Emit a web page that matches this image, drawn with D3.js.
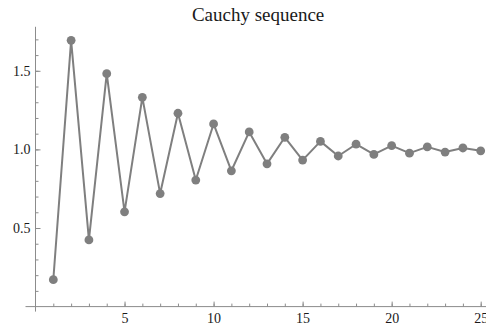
<!DOCTYPE html>
<html>
<head>
<meta charset="utf-8">
<script src="https://cdn.jsdelivr.net/npm/d3@7"></script>
<style>
  html, body { margin: 0; padding: 0; background: #fff; }
  svg { display: block; }
  text { font-family: "Liberation Serif", "Times New Roman", serif; }
</style>
</head>
<body>
<div id="chart"></div>
<script>
const title = "Cauchy sequence";
const nValues = [1,2,3,4,5,6,7,8,9,10,11,12,13,14,15,16,17,18,19,20,21,22,23,24,25];
const seqValues = [0.171, 1.694, 0.424, 1.482, 0.603, 1.331, 0.719, 1.230, 0.805, 1.162,
                   0.864, 1.111, 0.908, 1.077, 0.932, 1.051, 0.958, 1.033, 0.968, 1.024,
                   0.976, 1.016, 0.983, 1.009, 0.991];
const xMajorTicks = [5, 10, 15, 20, 25];
const xMinorTicks = d3.range(1, 26);
const yMajorTicks = [0.5, 1.0, 1.5];
const yMinorTicks = d3.range(1, 18).map(d => d / 10);

const W = 486, H = 327;
const svg = d3.select("#chart").append("svg").attr("width", W).attr("height", H);

const x = d3.scaleLinear().domain([0, 25]).range([35.5, 480.7]);
const y = d3.scaleLinear().domain([0, 1]).range([306.6, 149.4]);

const axisColor = "#8c8c8c";

// title
svg.append("text")
  .attr("x", (x(0) + x(25)) / 2)
  .attr("y", 20.5)
  .attr("text-anchor", "middle")
  .attr("font-size", 19)
  .attr("fill", "#1a1a1a")
  .text(title);

// axis lines (extended slightly past origin, Mathematica-style)
svg.append("line")
  .attr("x1", x(0) - 10).attr("x2", W)
  .attr("y1", y(0)).attr("y2", y(0))
  .attr("stroke", axisColor).attr("stroke-width", 1);
svg.append("line")
  .attr("x1", x(0)).attr("x2", x(0))
  .attr("y1", y(0) + 5).attr("y2", y(1.78))
  .attr("stroke", axisColor).attr("stroke-width", 1);

function styleAxis(g) {
  g.select(".domain").remove();
  g.selectAll(".tick line").attr("stroke", axisColor);
  g.selectAll(".tick text")
    .attr("font-family", "'Liberation Serif', 'Times New Roman', serif")
    .attr("font-size", 14)
    .attr("fill", "#1a1a1a");
}

// x minor ticks
svg.append("g").attr("transform", `translate(0,${y(0)})`)
  .call(d3.axisBottom(x).tickValues(xMinorTicks).tickSize(-3).tickFormat(""))
  .call(styleAxis);
// x major ticks
svg.append("g").attr("transform", `translate(0,${y(0)})`)
  .call(d3.axisBottom(x).tickValues(xMajorTicks).tickSize(-5).tickPadding(6).tickFormat(d3.format("d")))
  .call(styleAxis);

// y minor ticks
svg.append("g").attr("transform", `translate(${x(0)},0)`)
  .call(d3.axisLeft(y).tickValues(yMinorTicks).tickSize(-3).tickFormat(""))
  .call(styleAxis);
// y major ticks
svg.append("g").attr("transform", `translate(${x(0)},0)`)
  .call(d3.axisLeft(y).tickValues(yMajorTicks).tickSize(-5).tickPadding(5).tickFormat(d3.format(".1f")))
  .call(styleAxis);

const data = nValues.map((n, i) => ({ n, v: seqValues[i] }));
const color = "#7f7f7f";

svg.append("path")
  .datum(data)
  .attr("fill", "none")
  .attr("stroke", color)
  .attr("stroke-width", 2)
  .attr("stroke-linejoin", "round")
  .attr("d", d3.line().x(d => x(d.n)).y(d => y(d.v)));

svg.append("g").selectAll("circle")
  .data(data)
  .join("circle")
  .attr("cx", d => x(d.n))
  .attr("cy", d => y(d.v))
  .attr("r", 4.4)
  .attr("fill", color);
</script>
</body>
</html>
